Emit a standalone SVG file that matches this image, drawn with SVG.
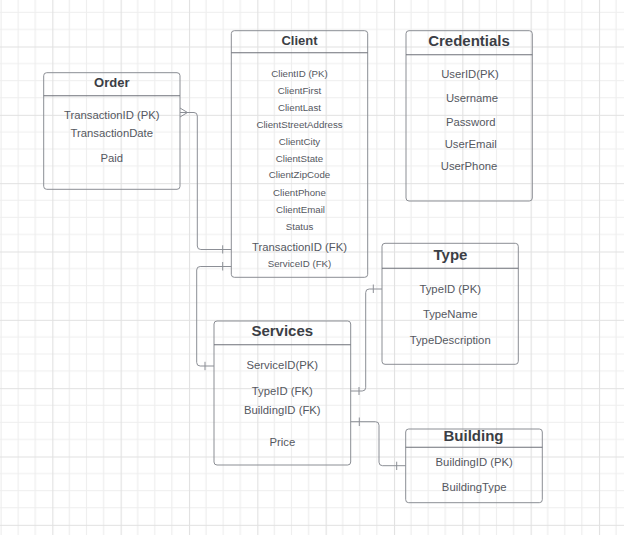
<svg xmlns="http://www.w3.org/2000/svg" width="624" height="535" viewBox="0 0 624 535">
<defs>
<pattern id="grid" patternUnits="userSpaceOnUse" x="52.3" y="46.5" width="68.333" height="68.333">
<path d="M17.083,0V68.333M34.167,0V68.333M51.25,0V68.333M0,17.083H68.333M0,34.167H68.333M0,51.25H68.333" stroke="#eeeeee" stroke-width="1.2" fill="none"/>
<path d="M0.5,0V68.333M0,0.5H68.333" stroke="#e1e1e1" stroke-width="1.2" fill="none"/>
</pattern>
<style>
.box{fill:none;stroke:#8b8e94;stroke-width:1}
.div{stroke:#6e7178;stroke-width:1.1}
.t{font-family:"Liberation Sans",Arial,sans-serif;font-weight:bold;fill:#3b3e45;text-anchor:middle}
.f{font-family:"Liberation Sans",Arial,sans-serif;fill:#55585f;font-size:11.3px;text-anchor:middle}
.s{font-family:"Liberation Sans",Arial,sans-serif;fill:#55585f;font-size:9.7px;text-anchor:middle}
.c{fill:none;stroke:#8c8f96;stroke-width:1}
</style>
</defs>
<rect width="624" height="535" fill="#ffffff"/>
<rect width="624" height="535" fill="url(#grid)"/>

<g id="connectors">
<path class="c" d="M180,112.5H194Q197.3,112.5 197.3,116V246Q197.3,249.5 200.8,249.5H231.3"/>
<path class="c" d="M180,108L187.5,112.5L180,117"/>
<path class="c" d="M222.7,245.3V253.5"/>
<path class="c" d="M231.3,266.5H200.2Q196.7,266.5 196.7,270V362.5Q196.7,366 200.2,366H214"/>
<path class="c" d="M222.7,262V270.5M205,361.8V370.2"/>
<path class="c" d="M350.7,391H362.2Q365.7,391 365.7,387.5V292.5Q365.7,289 369.2,289H382"/>
<path class="c" d="M359,387V395M373.3,284.5V293"/>
<path class="c" d="M350.7,421.7H375.5Q379,421.7 379,425.2V462.2Q379,465.7 382.5,465.7H405.7"/>
<path class="c" d="M359.3,417.5V426M396.7,461.7V470"/>
</g>

<g id="order">
<rect class="box" x="43.7" y="72.7" width="136.3" height="116.6" rx="3"/>
<line class="div" x1="43.7" y1="95.7" x2="180" y2="95.7"/>
<text class="t" x="111.8" y="87.3" font-size="13">Order</text>
<text class="f" x="111.8" y="119.3">TransactionID (PK)</text>
<text class="f" x="111.8" y="136.7">TransactionDate</text>
<text class="f" x="111.8" y="161.7">Paid</text>
</g>

<g id="client">
<rect class="box" x="231.3" y="30.7" width="136.4" height="246.6" rx="3"/>
<line class="div" x1="231.3" y1="52.7" x2="367.7" y2="52.7"/>
<text class="t" x="299.5" y="45" font-size="13">Client</text>
<text class="s" x="299.5" y="76.7">ClientID (PK)</text>
<text class="s" x="299.5" y="93.7">ClientFirst</text>
<text class="s" x="299.5" y="110.7">ClientLast</text>
<text class="s" x="299.5" y="127.7">ClientStreetAddress</text>
<text class="s" x="299.5" y="145">ClientCity</text>
<text class="s" x="299.5" y="161.7">ClientState</text>
<text class="s" x="299.5" y="178.3">ClientZipCode</text>
<text class="s" x="299.5" y="195.7">ClientPhone</text>
<text class="s" x="300.5" y="212.7">ClientEmail</text>
<text class="s" x="299.5" y="230">Status</text>
<text class="f" x="299.5" y="250.7">TransactionID (FK)</text>
<text class="s" x="299.5" y="267.3">ServiceID (FK)</text>
</g>

<g id="credentials">
<rect class="box" x="406" y="30.7" width="126.3" height="170.3" rx="3"/>
<line class="div" x1="406" y1="54.7" x2="532.3" y2="54.7"/>
<text class="t" x="469" y="46" font-size="15">Credentials</text>
<text class="f" x="470" y="78.3">UserID(PK)</text>
<text class="f" x="472" y="101.7">Username</text>
<text class="f" x="470.7" y="126">Password</text>
<text class="f" x="470.7" y="147.7">UserEmail</text>
<text class="f" x="469" y="170">UserPhone</text>
</g>

<g id="type">
<rect class="box" x="382" y="243.3" width="136.3" height="121" rx="3"/>
<line class="div" x1="382" y1="268.3" x2="518.3" y2="268.3"/>
<text class="t" x="450.5" y="260" font-size="15">Type</text>
<text class="f" x="450.2" y="293.3">TypeID (PK)</text>
<text class="f" x="450.2" y="318.3">TypeName</text>
<text class="f" x="450.2" y="344.3">TypeDescription</text>
</g>

<g id="services">
<rect class="box" x="214" y="321" width="136.7" height="144" rx="3"/>
<line class="div" x1="214" y1="344.7" x2="350.7" y2="344.7"/>
<text class="t" x="282.3" y="336" font-size="15">Services</text>
<text class="f" x="282.3" y="369.3">ServiceID(PK)</text>
<text class="f" x="282.3" y="395">TypeID (FK)</text>
<text class="f" x="282.3" y="414.3">BuildingID (FK)</text>
<text class="f" x="282.3" y="446">Price</text>
</g>

<g id="building">
<rect class="box" x="405.7" y="429" width="136.6" height="73.7" rx="3"/>
<line class="div" x1="405.7" y1="447.3" x2="542.3" y2="447.3"/>
<text class="t" x="473.5" y="440.7" font-size="15">Building</text>
<text class="f" x="474.2" y="465.7">BuildingID (PK)</text>
<text class="f" x="474.2" y="490.7">BuildingType</text>
</g>
</svg>
